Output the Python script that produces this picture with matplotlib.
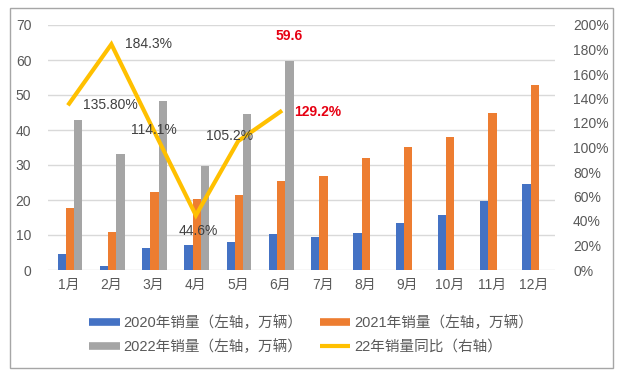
import matplotlib
matplotlib.use("Agg")
import matplotlib.pyplot as plt
from matplotlib.lines import Line2D
from matplotlib.patches import Rectangle
import numpy as np

plt.rcParams['font.family'] = ['Liberation Sans', 'Noto Sans CJK SC', 'DejaVu Sans']

months = ["1月", "2月", "3月", "4月", "5月", "6月", "7月", "8月", "9月", "10月", "11月", "12月"]
sales_2020 = [4.6, 1.2, 6.3, 7.2, 8.0, 10.3, 9.5, 10.6, 13.5, 15.7, 19.8, 24.6]
sales_2021 = [17.8, 10.9, 22.3, 20.2, 21.4, 25.4, 26.9, 32.0, 35.1, 38.0, 44.9, 52.9]
sales_2022 = [42.9, 33.1, 48.3, 29.8, 44.6, 59.6, np.nan, np.nan, np.nan, np.nan, np.nan, np.nan]
yoy_2022 = [135.8, 184.3, 114.1, 44.6, 105.2, 129.2]
yoy_labels = ["135.80%", "184.3%", "114.1%", "44.6%", "105.2%", "129.2%"]
left_ticks = [0, 10, 20, 30, 40, 50, 60, 70]
right_ticks = [0, 20, 40, 60, 80, 100, 120, 140, 160, 180, 200]
series_names = ["2020年销量（左轴，万辆）", "2021年销量（左轴，万辆）",
                "2022年销量（左轴，万辆）", "22年销量同比（右轴）"]

c_blue = "#4472C4"
c_orange = "#ED7D31"
c_gray = "#A5A5A5"
c_gold = "#FFC000"
txt = "#595959"

W, H = 621, 378
fig = plt.figure(figsize=(W / 100, H / 100), dpi=100)
fig.patch.set_facecolor("white")
fig.add_artist(Rectangle((10 / W, 1 - 368 / H), 603 / W, 360 / H, transform=fig.transFigure,
                         fill=False, edgecolor="#A6A6A6", linewidth=1.0))

ax = fig.add_axes([48 / W, 1 - 270 / H, (555 - 48) / W, (270 - 25) / H])
x = np.arange(len(months))
bw = 0.196
ax.bar(x - bw + 0.02, sales_2020, bw, color=c_blue, zorder=3)
ax.bar(x + 0.02, sales_2021, bw, color=c_orange, zorder=3)
ax.bar(x + bw + 0.02, sales_2022, bw, color=c_gray, zorder=3)
ax.set_xlim(-0.5, 11.5)
ax.set_ylim(0, 70)
ax.set_yticks(left_ticks)
ax.set_xticks(x)
ax.set_xticklabels(months)
ax.grid(axis="y", color="#D9D9D9", linewidth=1.0, zorder=0)
for s in ax.spines.values():
    s.set_visible(False)
ax.tick_params(axis="both", length=0, colors=txt, labelsize=10)
ax.tick_params(axis="y", pad=12)
ax.tick_params(axis="x", pad=6)

ax2 = ax.twinx()
ax2.set_ylim(0, 200)
ax2.set_yticks(right_ticks)
ax2.set_yticklabels([f"{v}%" for v in right_ticks])
for s in ax2.spines.values():
    s.set_visible(False)
ax2.tick_params(axis="y", length=0, colors=txt, labelsize=10, pad=13)
xm = x[:len(yoy_2022)]
ax2.plot(xm, yoy_2022, color=c_gold, linewidth=3, zorder=4, solid_joinstyle="miter")

# data labels (offsets in points)
offsets = [(10, -1, "left", "center"), (10, 0, "left", "center"), (0, 0, "center", "center"),
           (2, -6, "center", "top"), (-6, 4, "center", "center"), (10, 0, "left", "center")]
for i, (v, lab) in enumerate(zip(yoy_2022, yoy_labels)):
    dx, dy, ha, va = offsets[i]
    red = i == 5
    ax2.annotate(lab, (xm[i], v), xytext=(dx, dy), textcoords="offset points",
                 ha=ha, va=va, fontsize=10,
                 color="#E60012" if red else "#404040",
                 fontweight="bold" if red else "normal", zorder=6)
ax.annotate(f"{sales_2022[5]:.1f}", (x[5] + bw + 0.02, sales_2022[5]), xytext=(0, 13),
            textcoords="offset points", ha="center", va="bottom", fontsize=10,
            color="#E60012", fontweight="bold", zorder=6)

handles = [Line2D([], [], color=c_blue, linewidth=5.5, solid_capstyle="butt"),
           Line2D([], [], color=c_orange, linewidth=5.5, solid_capstyle="butt"),
           Line2D([], [], color=c_gray, linewidth=5.5, solid_capstyle="butt"),
           Line2D([], [], color=c_gold, linewidth=3, solid_capstyle="butt")]
# matplotlib fills legend column-wise; reorder so rows read 2020,2021 / 2022,22年
order = [0, 2, 1, 3]
leg = fig.legend([handles[i] for i in order], [series_names[i] for i in order],
                 loc="center", bbox_to_anchor=(311 / W, 1 - 335 / H),
                 ncol=2, frameon=False, fontsize=10.5, handlelength=2.1, handletextpad=0.25,
                 columnspacing=1.2, labelspacing=0.65, borderpad=0)
for t in leg.get_texts():
    t.set_color(txt)

fig.savefig("out.png", dpi=100)
